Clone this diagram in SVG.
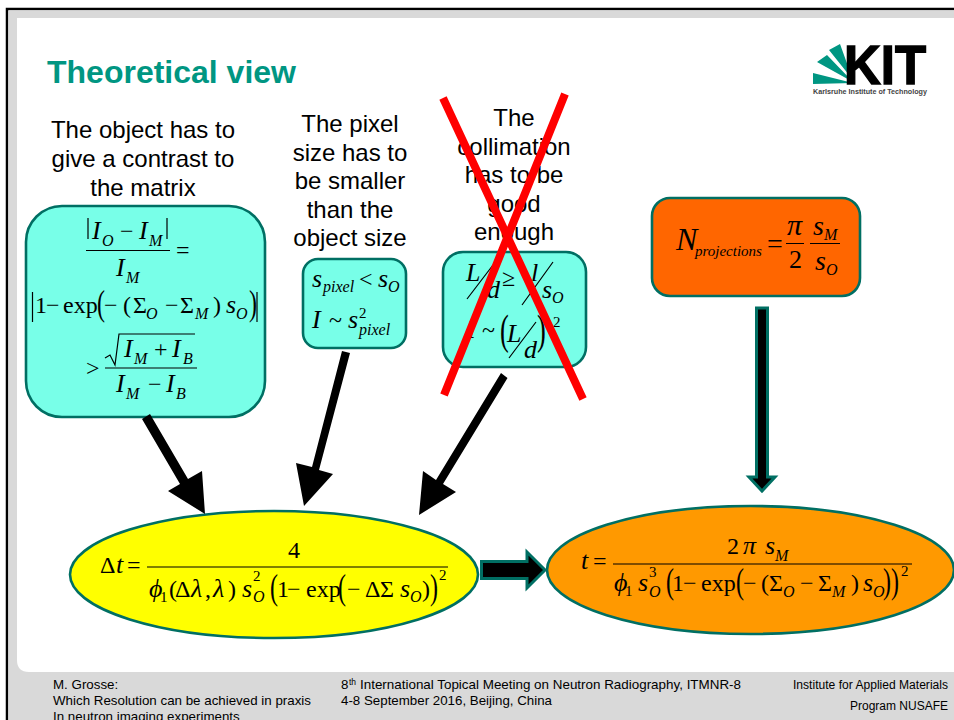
<svg xmlns="http://www.w3.org/2000/svg" width="954" height="720" viewBox="0 0 954 720">
<style>
.h{font:24px "Liberation Sans",Arial,sans-serif;fill:#000;text-anchor:middle}
.r{font:24px "Liberation Serif","Times New Roman",serif;fill:#000}
.i{font:italic 26px "Liberation Serif","Times New Roman",serif;fill:#000}
.s{font:italic 16px "Liberation Serif","Times New Roman",serif;fill:#000}
.n{font:15px "Liberation Serif","Times New Roman",serif;fill:#000}
.f{font:13.33px "Liberation Sans",Arial,sans-serif;fill:#000}
.g{font:12px "Liberation Sans",Arial,sans-serif;fill:#000}
.l{stroke:#000;stroke-width:1.2;fill:none}
.box{stroke:#006f63;stroke-width:2.6}
.cy{fill:#78ffe8}
.ar{fill:#000;stroke:none}
.ah{fill:#000;stroke:#006f63;stroke-width:3}
.x{stroke:#ff0000;stroke-width:8;fill:none}
</style>

<g id="slide">
<rect x="0" y="0" width="954" height="720" fill="#fff"/>
<path d="M7 720V9H954" fill="none" stroke="#000" stroke-width="2.5"/>
<path d="M8.500 720V10.500H954V720Z" fill="#d9d9d9"/>
<path d="M17 18H954V672H29Q17 672 17 660Z" fill="#fff"/>
</g>

<g id="title"><text x="47" y="83" font-family="Liberation Sans,Arial,sans-serif" font-weight="700" font-size="32" fill="#009682">Theoretical view</text></g>

<g id="logo">
<path d="M813 73L853 83L813 84Z M817 62L827 55L853 82Z M829 50L840 44L853 80Z" fill="#009682"/>
<text x="844" y="84" font-family="Liberation Sans,Arial,sans-serif" font-weight="700" font-size="56" textLength="82" lengthAdjust="spacingAndGlyphs" fill="#000" stroke="#000" stroke-width="1.5">KIT</text>
<text x="813" y="94" font-family="Liberation Sans,Arial,sans-serif" font-weight="700" font-size="7" textLength="114" lengthAdjust="spacingAndGlyphs" fill="#444">Karlsruhe Institute of Technology</text>
</g>

<g id="text-object">
<text class="h" x="143" y="138">The object has to</text>
<text class="h" x="143" y="167">give a contrast to</text>
<text class="h" x="143" y="196">the matrix</text>
</g>
<g id="text-pixel">
<text class="h" x="350" y="132">The pixel</text>
<text class="h" x="350" y="161">size has to</text>
<text class="h" x="350" y="189">be smaller</text>
<text class="h" x="350" y="218">than the</text>
<text class="h" x="350" y="246">object size</text>
</g>
<g id="text-collimation">
<text class="h" x="514" y="126">The</text>
<text class="h" x="514" y="155">collimation</text>
<text class="h" x="514" y="183">has to be</text>
<text class="h" x="514" y="212">good</text>
<text class="h" x="514" y="240">enough</text>
</g>

<g id="box-contrast">
<rect class="box cy" x="26" y="206" width="239" height="211" rx="36"/>
<path class="l" d="M88 218V239M167 218V239M86 250.500H170M32.500 292V322M257 292V322M105 358L110 355L115 365L119 334H195M105 368H197"/>
<text class="i" y="239"><tspan x="92">I</tspan><tspan x="139">I</tspan></text>
<text class="r" y="239" x="120">−</text>
<text class="s" y="246"><tspan x="102">O</tspan><tspan x="149">M</tspan></text>
<text class="r" x="176" y="258">=</text>
<text class="i" x="116" y="276">I</text><text class="s" x="126" y="283">M</text>
<text class="r" y="313"><tspan x="35">1</tspan><tspan x="46">−</tspan><tspan x="63">exp</tspan><tspan x="104">−</tspan><tspan x="123">(</tspan><tspan x="133">Σ</tspan><tspan x="165">−</tspan><tspan x="180">Σ</tspan><tspan x="213">)</tspan></text>
<text class="r" transform="translate(97,315) scale(1,1.5)">(</text>
<text class="r" transform="translate(249,315) scale(1,1.5)">)</text>
<text class="i" x="226" y="313">s</text>
<text class="s" y="319"><tspan x="146">O</tspan><tspan x="195">M</tspan><tspan x="236">O</tspan></text>
<text class="r" x="86" y="376">&gt;</text>
<text class="i" y="357"><tspan x="124">I</tspan><tspan x="172">I</tspan></text>
<text class="r" x="154" y="357">+</text>
<text class="s" y="364"><tspan x="134">M</tspan><tspan x="183">B</tspan></text>
<text class="i" y="392"><tspan x="116">I</tspan><tspan x="166">I</tspan></text>
<text class="r" x="148" y="392">−</text>
<text class="s" y="399"><tspan x="126">M</tspan><tspan x="176">B</tspan></text>
</g>

<g id="box-pixel">
<rect class="box cy" x="303" y="259" width="103" height="89" rx="15"/>
<text class="i" y="287"><tspan x="312">s</tspan><tspan x="378">s</tspan></text>
<text class="r" x="359" y="287">&lt;</text>
<text class="s" y="292"><tspan x="323">pixel</tspan><tspan x="388">O</tspan></text>
<text class="i" y="328"><tspan x="312">I</tspan><tspan x="348">s</tspan></text>
<text class="r" x="329" y="328">~</text>
<text class="n" x="359" y="318">2</text>
<text class="s" x="359" y="335">pixel</text>
</g>

<g id="box-collimation">
<rect class="box cy" x="443" y="252" width="143" height="115" rx="20"/>
<path class="l" d="M467 299L493 265M522 305L553 262M509 358L536 322"/>
<text class="i" y="281"><tspan x="466">L</tspan><tspan x="531">l</tspan></text>
<text class="i" x="487" y="298">d</text>
<text class="r" x="502" y="286">≥</text>
<text class="i" x="542" y="298">s</text><text class="s" x="552" y="303">O</text>
<text class="i" x="467" y="338">I</text>
<text class="r" x="482" y="338">~</text>
<text class="r" transform="translate(500,344) scale(1.1,1.8)">(</text>
<text class="r" transform="translate(537,344) scale(1.1,1.8)">)</text>
<text class="i" x="507" y="342">L</text>
<text class="i" x="524" y="358">d</text>
<text class="n" x="553" y="327">2</text>
<path class="x" d="M443 98L583 399M565 94L444 395"/>
</g>

<g id="box-projections">
<rect class="box" fill="#ff6600" x="652" y="198" width="208" height="98" rx="18"/>
<text class="i" x="676" y="250" style="font-size:32px">N</text>
<text class="s" x="695" y="256" style="font-size:15px">projections</text>
<text class="r" x="767" y="253" style="font-size:28px">=</text>
<path class="l" d="M786 243.500H804M810 243.500H840"/>
<text class="i" x="787" y="235" style="font-size:30px">π</text>
<text class="r" x="789" y="268" style="font-size:26px">2</text>
<text class="i" y="235" x="813" style="font-size:28px">s</text><text class="s" x="824" y="240">M</text>
<text class="i" y="270" x="815" style="font-size:28px">s</text><text class="s" x="826" y="275">O</text>
</g>

<g id="ellipse-dt">
<ellipse class="box" fill="#ffff00" cx="274" cy="574.500" rx="204" ry="63.500"/>
<path class="l" d="M147 567H448"/>
<text class="r" y="573"><tspan x="100">Δ</tspan><tspan x="127">=</tspan></text>
<text class="i" x="116" y="573">t</text>
<text class="r" x="288" y="558">4</text>
<text class="i" y="597"><tspan x="149">ϕ</tspan><tspan x="191">λ</tspan><tspan x="213">λ</tspan><tspan x="242">s</tspan><tspan x="400">s</tspan></text>
<text class="n" x="160" y="602">1</text>
<text class="r" y="597"><tspan x="169">(</tspan><tspan x="175">Δ</tspan><tspan x="205">,</tspan><tspan x="228">)</tspan><tspan x="277">1</tspan><tspan x="287">−</tspan><tspan x="306">exp</tspan><tspan x="347">−</tspan><tspan x="365">Δ</tspan><tspan x="380">Σ</tspan><tspan x="422">)</tspan></text>
<text class="r" transform="translate(270,599) scale(1,1.5)">(</text>
<text class="r" transform="translate(338,599) scale(1,1.5)">(</text>
<text class="r" transform="translate(430,599) scale(1,1.5)">)</text>
<text class="n" x="253" y="581">2</text><text class="n" x="439" y="580">2</text>
<text class="s" y="602"><tspan x="253">O</tspan><tspan x="410">O</tspan></text>
</g>

<g id="ellipse-t">
<ellipse class="box" fill="#ff9900" cx="750.500" cy="570" rx="203.500" ry="64"/>
<path class="l" d="M613 564H912"/>
<text class="i" x="581" y="569">t</text>
<text class="r" x="593" y="569">=</text>
<text class="r" x="727" y="554">2</text>
<text class="i" y="554"><tspan x="743">π</tspan><tspan x="765">s</tspan></text>
<text class="s" x="775" y="561">M</text>
<text class="i" y="591"><tspan x="614">ϕ</tspan><tspan x="638">s</tspan><tspan x="863">s</tspan></text>
<text class="n" x="625" y="596">1</text>
<text class="n" x="649" y="577">3</text>
<text class="s" y="597"><tspan x="649">O</tspan><tspan x="783">O</tspan><tspan x="832">M</tspan><tspan x="873">O</tspan></text>
<text class="r" y="591"><tspan x="672">1</tspan><tspan x="683">−</tspan><tspan x="701">exp</tspan><tspan x="743">−</tspan><tspan x="761">(</tspan><tspan x="769">Σ</tspan><tspan x="800">−</tspan><tspan x="818">Σ</tspan><tspan x="851">)</tspan></text>
<text class="r" transform="translate(666,593) scale(1,1.5)">(</text>
<text class="r" transform="translate(736,593) scale(1,1.5)">(</text>
<text class="r" transform="translate(883,593) scale(1,1.5)">)</text>
<text class="r" transform="translate(891,593) scale(1,1.5)">)</text>
<text class="n" x="901" y="576">2</text>
</g>

<g id="connectors">
<path class="ar" d="M142 419L150 414L188 479L202 471L205 514L168 491L180 484Z"/>
<path class="ar" d="M342 351L350 353L319 470L333 474L304 506L296 463L312 467Z"/>
<path class="ar" d="M501 373L507.500 378L443 484L456 492L419 515L423 471L436 480Z"/>
<path class="ah" d="M481.500 561.500H527V552L545 570L527 588V578.500H481.500Z"/>
<path class="ah" d="M756.500 308H767.500V477H775L762 491L749 477H756.500Z"/>
</g>

<g id="footer">
<text class="f" x="53" y="689">M. Grosse:</text>
<text class="f" x="53" y="705" textLength="258" lengthAdjust="spacingAndGlyphs">Which Resolution can be achieved in praxis</text>
<text class="f" x="53" y="721">In neutron imaging experiments</text>
<text class="f" x="341" y="689">8</text>
<text class="f" x="349" y="685" style="font-size:8.500px">th</text>
<text class="f" x="360" y="689" textLength="381" lengthAdjust="spacingAndGlyphs">International Topical Meeting on Neutron Radiography, ITMNR-8</text>
<text class="f" x="341" y="705" textLength="211" lengthAdjust="spacingAndGlyphs">4-8 September 2016, Beijing, China</text>
<text class="g" x="793" y="689" textLength="155" lengthAdjust="spacingAndGlyphs">Institute for Applied Materials</text>
<text class="g" x="948" y="710" text-anchor="end">Program NUSAFE</text>
</g>
</svg>
